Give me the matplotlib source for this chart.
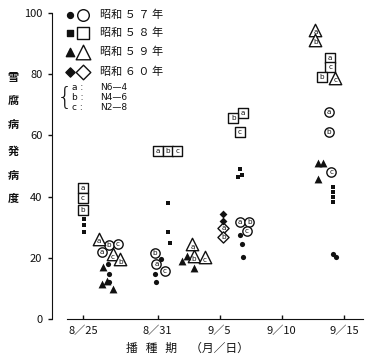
import matplotlib
matplotlib.use("Agg")
import matplotlib.pyplot as plt

plt.rcParams['font.family'] = ['Noto Sans CJK JP', 'DejaVu Sans']

# ---- data (x = days after 8/25) ----
tick_days = [0, 6, 11, 16, 21]
tick_labels = ["8／25", "8／31", "9／5", "9／10", "9／15"]

# open (labelled a/b/c) markers
o57_day = [1.5, 2.1, 2.8, 5.9, 5.8, 6.6, 12.6, 13.4, 13.2, 19.8, 19.8, 20.0]
o57_val = [21.8, 24.1, 24.4, 18.0, 21.5, 15.6, 31.6, 31.6, 28.7, 67.7, 61.2, 47.9]
o57_lab = ['a', 'b', 'c', 'a', 'b', 'c', 'a', 'b', 'c', 'a', 'b', 'c']

o58_day = [0.0, 0.0, 0.0, 6.0, 6.8, 7.6, 12.9, 12.1, 12.6, 19.9, 19.9, 19.2]
o58_val = [42.7, 39.4, 35.5, 55.0, 55.0, 55.0, 67.4, 65.8, 61.2, 85.3, 82.4, 79.1]
o58_lab = ['a', 'c', 'b', 'a', 'b', 'c', 'a', 'b', 'c', 'a', 'c', 'b']

o59_day = [1.3, 2.4, 3.0, 8.8, 8.9, 9.8, 18.7, 18.7, 20.3]
o59_val = [26.2, 21.2, 19.5, 24.4, 20.5, 20.2, 94.5, 91.2, 78.8]
o59_lab = ['a', 'c', 'b', 'a', 'b', 'c', 'a', 'b', 'c']

o60_day = [11.3, 11.3]
o60_val = [29.6, 26.7]
o60_lab = ['a', 'b']

# filled (unlabelled) markers
f57_day = [2.0, 2.1, 2.1, 6.3, 5.8, 5.9, 12.6, 12.8, 12.9, 20.1, 20.4]
f57_val = [17.9, 14.7, 12.0, 19.5, 14.6, 12.0, 27.6, 24.6, 20.3, 21.2, 20.2]

f58_day = [0.1, 0.1, 0.1, 6.8, 6.8, 7.0, 12.6, 12.8, 12.5, 20.1, 20.1, 20.1, 20.1]
f58_val = [32.6, 30.6, 28.3, 37.8, 28.4, 24.8, 48.9, 47.2, 46.3, 43.3, 41.5, 39.8, 38.3]

f59_day = [1.6, 1.5, 1.9, 2.4, 8.0, 8.4, 8.9, 18.9, 19.3, 18.9]
f59_val = [17.0, 11.4, 12.4, 9.8, 18.9, 20.5, 16.6, 51.1, 51.1, 45.6]

f60_day = [11.3, 11.3]
f60_val = [34.2, 31.9]

years = ["昭和 ５ ７ 年", "昭和 ５ ８ 年", "昭和 ５ ９ 年", "昭和 ６ ０ 年"]
treat_keys = ["a", "b", "c"]
treat_names = ["N6—4", "N4—6", "N2—8"]

W, H = 372, 361
fig = plt.figure(figsize=(W / 100, H / 100), dpi=100)
ax = fig.add_axes([52 / W, 1 - 319 / H, (365 - 52) / W, (319 - 13) / H])
ax.set_xlim(-2.5, 22.7)
ax.set_ylim(0, 100)

ink = '#111111'
open_sty = dict(facecolor='white', edgecolors=ink, linewidths=1.0, zorder=3)

series_open = [
    (o57_day, o57_val, o57_lab, 'o', 45, 0.0),
    (o58_day, o58_val, o58_lab, 's', 52, 0.0),
    (o59_day, o59_val, o59_lab, '^', 80, -0.8),
    (o60_day, o60_val, o60_lab, 'D', 32, 0.0),
]
for d, v, lab, m, s, dy in series_open:
    ax.scatter(d, v, marker=m, s=s, **open_sty)
    for xi, yi, li in zip(d, v, lab):
        ax.text(xi, yi + dy, li, ha='center', va='center', fontsize=5.2,
                family='DejaVu Sans', color=ink, zorder=4)

series_fill = [
    (f57_day, f57_val, 'o', 14),
    (f58_day, f58_val, 's', 12),
    (f59_day, f59_val, '^', 32),
    (f60_day, f60_val, 'D', 16),
]
for d, v, m, s in series_fill:
    ax.scatter(d, v, marker=m, s=s, color=ink, linewidths=0, zorder=3)

for sp in ['top', 'right']:
    ax.spines[sp].set_visible(False)
ax.spines['left'].set_color(ink)
ax.spines['bottom'].set_color(ink)
ax.spines['bottom'].set_bounds(-1.3, 22.5)
ax.set_yticks([0, 20, 40, 60, 80, 100])
ax.set_xticks(tick_days)
ax.set_xticklabels(tick_labels)
ax.tick_params(axis='y', direction='out', length=3, width=1, pad=4, labelsize=8, colors=ink)
ax.tick_params(axis='x', direction='in', length=3, width=1, pad=5, labelsize=8, colors=ink)

# legend (years)
leg_rows = [15, 33, 52, 72]
mk_f = ['o', 's', '^', 'D']
s_f = [18, 16, 36, 22]
s_o = [70, 70, 110, 55]
for yy, name, m, sf, so in zip(leg_rows, years, mk_f, s_f, s_o):
    fy = 1 - yy / H
    ax.scatter([70 / W], [fy], marker=m, s=sf, color=ink, transform=fig.transFigure,
               clip_on=False, zorder=5)
    ax.scatter([83 / W], [fy], marker=m, s=so, facecolor='white', edgecolors=ink,
               linewidths=1.0, transform=fig.transFigure, clip_on=False, zorder=5)
    fig.text(100 / W, fy, name, fontsize=8, va='center', ha='left', color=ink)

# treatments
fig.text(57 / W, 1 - 98 / H, "{", fontsize=18, va='center', ha='left', color=ink,
         family='DejaVu Sans', fontweight='light')
for i, (k, nm) in enumerate(zip(treat_keys, treat_names)):
    fy = 1 - (88 + 9.5 * i) / H
    fig.text(72 / W, fy, k + " :", fontsize=6.5, va='center', ha='left', color=ink,
             family='DejaVu Sans')
    fig.text(100 / W, fy, nm, fontsize=6.5, va='center', ha='left', color=ink,
             family='DejaVu Sans')

# y label (vertical characters)
ychars = ["雪", "腐", "病", "発", "病", "度"]
ypos = [78, 100, 124, 151, 175, 198]
for c, yy in zip(ychars, ypos):
    fig.text(13 / W, 1 - yy / H, c, fontsize=8, ha='center', va='center',
             color=ink, fontweight='bold')

# x label
fig.text(187 / W, 1 - 348 / H, "播   種   期     （月／日）", fontsize=8.5, ha='center',
         va='center', color=ink)

fig.savefig("out.png", dpi=100)
